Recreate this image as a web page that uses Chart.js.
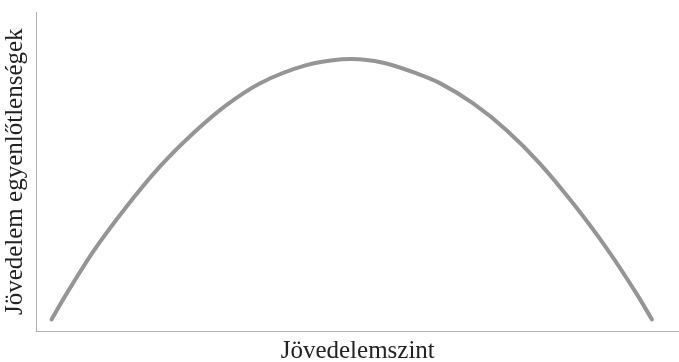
<!DOCTYPE html>
<html>
<head>
<meta charset="utf-8">
<script src="https://cdn.jsdelivr.net/npm/chart.js@4/dist/chart.umd.min.js"></script>
<style>
html,body{margin:0;padding:0;background:#fff;}
#wrap{width:679px;height:362px;}
</style>
</head>
<body>
<div id="wrap"><canvas id="c"></canvas></div>
<script>
// Income level (x) and income inequality (y)
const incomeLevel = [2.34, 4.36, 8.77, 13.97, 19.16, 24.35, 29.55, 34.74, 42.01, 47.20, 49.07, 53.94, 59.14, 62.77, 67.96, 73.16, 78.35, 83.54, 88.74, 93.41, 95.79];
const inequality  = [3.76, 10.75, 24.86, 38.97, 51.50, 61.97, 70.85, 77.65, 83.39, 85.17, 85.27, 84.11, 80.78, 77.74, 71.38, 63.01, 52.57, 40.03, 26.02, 11.76, 3.76];
const xTitle = "Jövedelemszint";
const yTitle = "Jövedelem egyenlőtlenségek";

const points = incomeLevel.map((x, i) => ({x: x, y: inequality[i]}));
const serif = '"Liberation Serif", "Times New Roman", serif';

new Chart(document.getElementById('c'), {
  type: 'line',
  data: {
    datasets: [{
      data: points,
      borderColor: '#959595',
      borderWidth: 4,
      borderCapStyle: 'round',
      pointRadius: 0,
      cubicInterpolationMode: 'monotone',
      fill: false
    }]
  },
  options: {
    responsive: true,
    maintainAspectRatio: false,
    animation: false,
    layout: {padding: {top: 12, right: 0, bottom: 0, left: 0}},
    plugins: {legend: {display: false}, tooltip: {enabled: false}},
    scales: {
      x: {
        type: 'linear', min: 0, max: 100,
        grid: {display: false, drawTicks: false},
        border: {display: true, color: '#b0b0b0', width: 1},
        ticks: {display: false},
        title: {display: true, text: xTitle, color: '#222',
          font: {family: serif, size: 25, lineHeight: 0.92},
          padding: {top: 8.5, bottom: -1}}
      },
      y: {
        min: 0, max: 100,
        grid: {display: false, drawTicks: false},
        border: {display: true, color: '#b0b0b0', width: 1},
        ticks: {display: false},
        title: {display: true, text: yTitle, color: '#222',
          font: {family: serif, size: 25, lineHeight: 1.2},
          padding: {top: 0, bottom: 6.5}}
      }
    }
  }
});
</script>
</body>
</html>
